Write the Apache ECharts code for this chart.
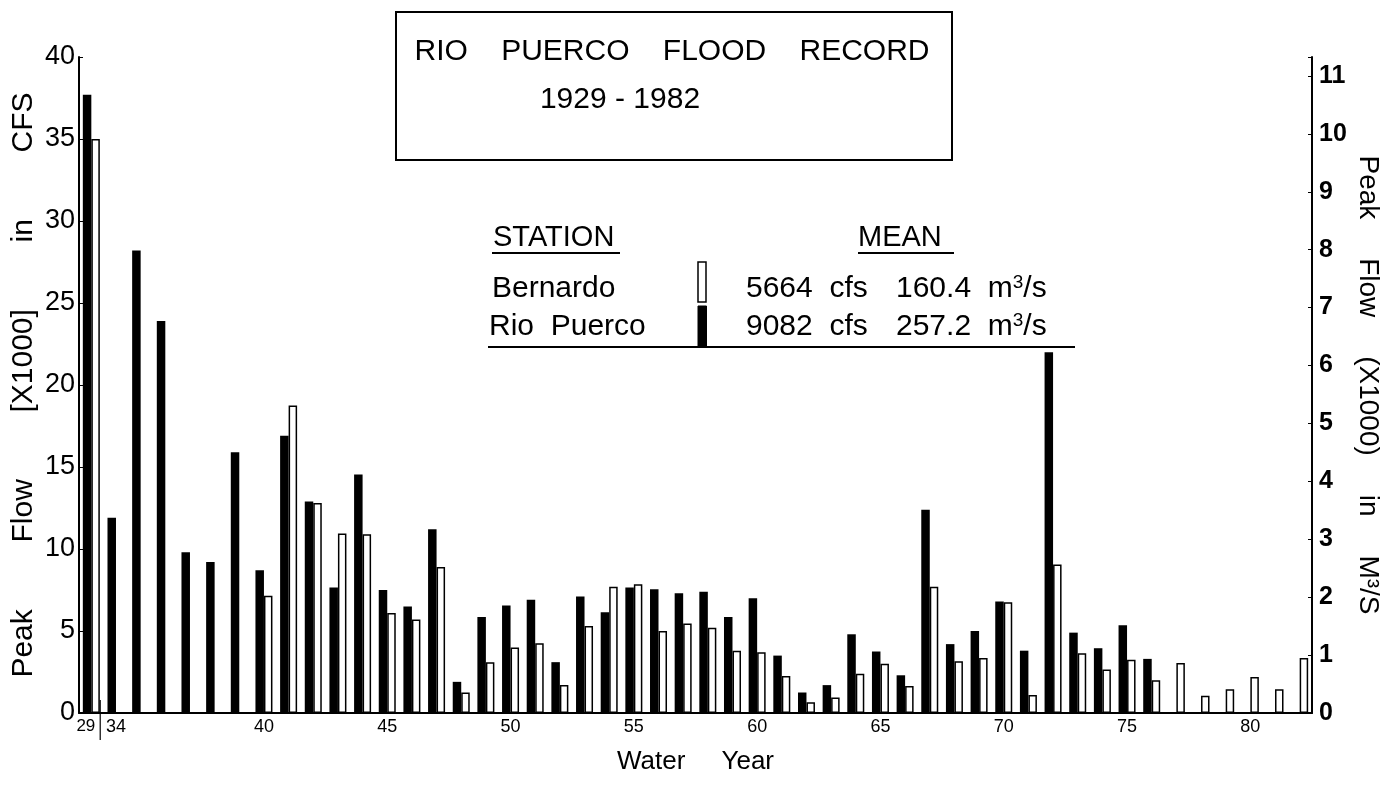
<!DOCTYPE html>
<html><head><meta charset="utf-8">
<script src="https://cdn.jsdelivr.net/npm/echarts@6/dist/echarts.min.js"></script>
<style>html,body{margin:0;padding:0;background:#fff}#c{width:1389px;height:800px}</style>
</head><body><div id="c"></div>
<script>
// Water years (1929, then 1934-1982)
const years = ['29','34','35','36','37','38','39','40','41','42','43','44','45','46','47','48','49','50','51','52','53','54','55','56','57','58','59','60','61','62','63','64','65','66','67','68','69','70','71','72','73','74','75','76','77','78','79','80','81','82'];
// Peak flow, thousands of cfs
const rioPuerco = [37.7,11.9,28.2,23.9,9.8,9.2,15.9,8.7,16.9,12.9,7.65,14.55,7.5,6.5,11.2,1.9,5.85,6.55,6.9,3.1,7.1,6.15,7.65,7.55,7.3,7.4,5.85,7.0,3.5,1.25,1.7,4.8,3.75,2.3,12.4,4.2,5.0,6.8,3.8,22.0,4.9,3.95,5.35,3.3,null,null,null,null,null,null];
const bernardo = [35.0,null,null,null,null,null,null,7.15,18.75,12.8,10.95,10.9,6.1,5.7,8.9,1.25,3.1,4.0,4.25,1.7,5.3,7.7,7.85,5.0,5.45,5.2,3.8,3.7,2.25,0.65,0.95,2.4,3.0,1.65,7.7,3.15,3.35,6.75,1.1,9.05,3.65,2.65,3.25,2.0,3.05,1.05,1.45,2.2,1.45,3.35];
const labelYears = ['29','34','40','45','50','55','60','65','70','75','80'];
const tickYears = ['40','45','50','55','60','65','70','75','80'];
const CFS_PER_M3S = 35.3147; // 1 (x100 m3/s) = 3.53147 (x1000 cfs)
const leftMax = 40;
const rightMax = leftMax / (CFS_PER_M3S / 10);

const FONT = 'Liberation Sans, Arial, sans-serif';
const chart = echarts.init(document.getElementById('c'), null, {renderer: 'canvas'});

chart.setOption({
  backgroundColor: '#fff',
  animation: false,
  textStyle: {fontFamily: FONT, color: '#000'},
  grid: {left: 79, right: 77, top: 57, bottom: 87, containLabel: false, outerBoundsMode: 'none'},
  xAxis: {
    type: 'category', data: years,
    name: 'Water     Year', nameLocation: 'middle', nameGap: 36,
    nameTextStyle: {fontSize: 26, color: '#000', fontFamily: FONT},
    axisLine: {lineStyle: {color: '#000', width: 2}},
    axisTick: {alignWithLabel: true, length: 5, lineStyle: {color: '#000', width: 1.5},
      interval: (i, v) => tickYears.includes(v)},
    axisLabel: {fontSize: 18, color: '#000', margin: 5, fontFamily: FONT,
      interval: (i, v) => labelYears.includes(v),
      formatter: v => v === '29' ? '{l|' + v + '}' : v,
      rich: {l: {fontSize: 17, fontFamily: FONT, color: '#000', padding: [0, 11, 0, 0]}}}
  },
  yAxis: [{
    type: 'value', min: 0, max: leftMax, interval: 5,
    name: 'Peak        Flow        [X1000]        in        CFS', nameLocation: 'middle', nameGap: 40,
    nameMoveOverlap: false,
    nameTextStyle: {fontSize: 30, color: '#000', fontFamily: FONT},
    axisLine: {show: true, lineStyle: {color: '#000', width: 2}},
    axisTick: {show: true, inside: true, length: 4, lineStyle: {color: '#000'}},
    axisLabel: {fontSize: 27, color: '#000', margin: 4, fontFamily: FONT},
    splitLine: {show: false}
  }, {
    type: 'value', min: 0, max: rightMax, interval: 1, position: 'right',
    name: 'Peak     Flow     (X1000)     in     M³/S', nameLocation: 'middle', nameGap: 42, nameRotate: -90,
    nameMoveOverlap: false,
    nameTextStyle: {fontSize: 28, color: '#000', fontFamily: FONT},
    axisLine: {show: true, lineStyle: {color: '#000', width: 2}},
    axisTick: {show: true, inside: true, length: 4, lineStyle: {color: '#000'}},
    axisLabel: {fontSize: 25, fontWeight: 'bold', color: '#000', margin: 7, fontFamily: FONT,
      formatter: v => Math.abs(v - Math.round(v)) < 1e-6 ? String(Math.round(v)) : ''},
    splitLine: {show: false}
  }],
  series: [{
    name: 'Rio Puerco', type: 'bar', data: rioPuerco, barWidth: 8.5, barGap: '0%',
    itemStyle: {color: '#000'}
  }, {
    name: 'Bernardo', type: 'bar', data: bernardo, barWidth: 8.5, barGap: '0%',
    itemStyle: {color: '#fff', borderColor: '#000', borderWidth: 1.5}
  }]
});

// Decorations: title box, station/mean table, axis break mark
const x29 = chart.convertToPixel({xAxisIndex: 0}, '29');
const x34 = chart.convertToPixel({xAxisIndex: 0}, '34');
const y0 = chart.convertToPixel({yAxisIndex: 0}, 0);
const breakX = x29 + (x34 - x29) * 0.36;

const txt = (x, y, text, size, extra) => Object.assign({
  type: 'text', x: x, y: y,
  style: Object.assign({text: text, fontSize: size, fontFamily: FONT, fill: '#000', textVerticalAlign: 'middle'}, extra || {})
});
const supRich = {
  n: {fontSize: 30, fontFamily: FONT, fill: '#000', color: '#000'},
  s: {fontSize: 19, fontFamily: FONT, fill: '#000', color: '#000', verticalAlign: 'top', padding: [0,0,12,0]}
};

chart.setOption({
  graphic: [
    {type: 'rect', shape: {x: 396, y: 12, width: 556, height: 148}, style: {fill: '#fff', stroke: '#000', lineWidth: 2}},
    txt(672, 52, 'RIO    PUERCO    FLOOD    RECORD', 30, {textAlign: 'center'}),
    txt(620, 100, '1929 - 1982', 30, {textAlign: 'center'}),

    txt(493, 238, 'STATION', 29),
    {type: 'line', shape: {x1: 492, y1: 253, x2: 620, y2: 253}, style: {stroke: '#000', lineWidth: 2}},
    txt(858, 238, 'MEAN', 29),
    {type: 'line', shape: {x1: 858, y1: 253, x2: 954, y2: 253}, style: {stroke: '#000', lineWidth: 2}},

    txt(492, 289, 'Bernardo', 30),
    txt(489, 327, 'Rio  Puerco', 30),
    {type: 'rect', shape: {x: 698, y: 262, width: 8, height: 40}, style: {fill: '#fff', stroke: '#000', lineWidth: 1.5}},
    {type: 'rect', shape: {x: 698, y: 306, width: 8.5, height: 41}, style: {fill: '#000', stroke: '#000', lineWidth: 1}},
    txt(746, 289, '5664  cfs', 30),
    txt(746, 327, '9082  cfs', 30),
    txt(896, 289, '', 30, {text: '{n|160.4  m}{s|3}{n|/s}', rich: supRich}),
    txt(896, 327, '', 30, {text: '{n|257.2  m}{s|3}{n|/s}', rich: supRich}),
    {type: 'line', shape: {x1: 488, y1: 347, x2: 1075, y2: 347}, style: {stroke: '#000', lineWidth: 2}},

    {type: 'line', shape: {x1: breakX, y1: y0 - 13, x2: breakX, y2: y0 + 27}, style: {stroke: '#000', lineWidth: 1.2}}
  ]
});
</script>
</body></html>
